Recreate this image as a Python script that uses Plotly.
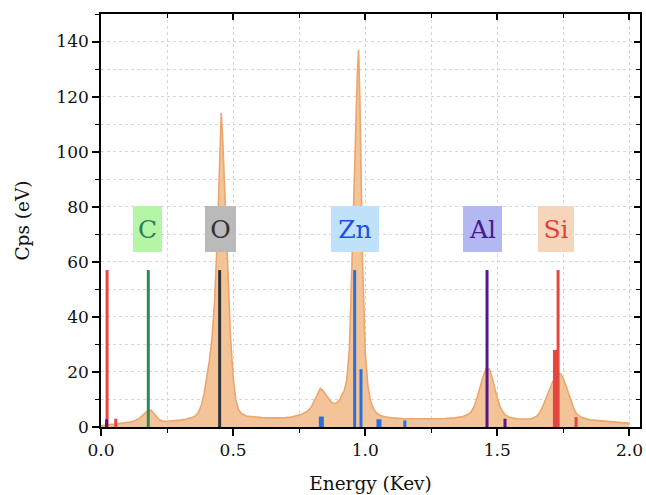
import plotly.graph_objects as go

# EDS spectrum: energy (keV) and counts
energy_kev = [0.00, 0.01, 0.02, 0.03, 0.04, 0.05, 0.06, 0.07, 0.08, 0.09,
              0.10, 0.11, 0.12, 0.13, 0.14, 0.15, 0.16, 0.17, 0.18, 0.19,
              0.20, 0.21, 0.22, 0.23, 0.24, 0.26, 0.28, 0.30, 0.32, 0.34,
              0.35, 0.36, 0.37, 0.38, 0.39, 0.40, 0.41, 0.42, 0.43, 0.44,
              0.45, 0.455, 0.46, 0.47, 0.48, 0.49, 0.50, 0.51, 0.52, 0.53,
              0.55, 0.58, 0.61, 0.64, 0.67, 0.70, 0.72, 0.74, 0.76, 0.78,
              0.79, 0.80, 0.81, 0.82, 0.83, 0.84, 0.85, 0.86, 0.87, 0.88,
              0.89, 0.90, 0.91, 0.92, 0.93, 0.94, 0.95, 0.96, 0.97, 0.975,
              0.98, 0.99, 1.00, 1.01, 1.02, 1.03, 1.04, 1.05, 1.06, 1.08,
              1.10, 1.14, 1.18, 1.22, 1.26, 1.30, 1.34, 1.37, 1.39, 1.40,
              1.41, 1.42, 1.43, 1.44, 1.45, 1.46, 1.47, 1.48, 1.49, 1.50,
              1.51, 1.52, 1.53, 1.55, 1.58, 1.61, 1.63, 1.65, 1.66, 1.67,
              1.68, 1.69, 1.70, 1.71, 1.72, 1.73, 1.74, 1.75, 1.76, 1.77,
              1.78, 1.79, 1.80, 1.82, 1.85, 1.90, 1.95, 2.00]
counts = [0.4, 0.6, 0.8, 0.9, 1.0, 1.0, 1.1, 1.2, 1.4, 1.5,
          1.6, 1.8, 2.0, 2.3, 2.8, 3.5, 4.4, 5.4, 6.2, 6.0,
          4.9, 3.6, 2.7, 2.3, 2.1, 2.2, 2.3, 2.5, 2.8, 3.2,
          3.6, 4.3, 5.6, 8.0, 12.0, 18.0, 24.0, 32.0, 46.0, 68.0,
          98.0, 114.0, 106.0, 80.0, 58.0, 33.0, 18.0, 10.0, 6.5, 5.0,
          4.0, 3.6, 3.4, 3.3, 3.3, 3.4, 3.6, 4.0, 4.6, 5.6,
          6.5, 8.0, 10.0, 12.5, 14.0, 13.2, 11.8, 10.2, 9.2, 8.6,
          8.6, 9.4, 11.0, 13.0, 17.0, 28.0, 60.0, 95.0, 128.0, 137.0,
          118.0, 60.0, 27.0, 15.0, 9.5, 6.8, 5.4, 4.6, 4.1, 3.6,
          3.3, 3.1, 3.0, 3.0, 3.0, 3.1, 3.3, 3.8, 4.6, 5.4,
          7.0, 9.5, 13.0, 16.5, 19.5, 21.5, 21.0, 18.0, 14.0, 10.5,
          7.5, 5.6, 4.4, 3.4, 2.9, 2.8, 3.0, 4.0, 5.2, 7.0,
          9.5, 12.0, 14.5, 16.5, 18.0, 19.5, 19.3, 17.5, 15.0, 12.0,
          9.0, 6.5, 4.8, 3.4, 2.6, 2.1, 1.7, 1.3]

# Reference line markers per element (energy keV, marker height)
si_lines_kev = [0.023, 0.056, 1.719, 1.730, 1.798]
si_lines_h = [57, 3, 28, 57, 3.6]
al_lines_kev = [0.021, 1.461, 1.529]
al_lines_h = [2.8, 57, 3]
c_lines_kev = [0.179]
c_lines_h = [57]
o_lines_kev = [0.449]
o_lines_h = [57]
zn_lines_kev = [0.834, 0.960, 0.984, 1.052, 1.150]
zn_lines_h = [3.8, 57, 21, 2.8, 2.4]

# Element tags: text, energy position, height position
tag_text = ["C", "O", "Zn", "Al", "Si"]
tag_kev = [0.175, 0.454, 0.962, 1.442, 1.722]
tag_y = [71.8, 71.8, 71.8, 71.8, 71.8]

x_ticks = [0.0, 0.5, 1.0, 1.5, 2.0]
y_ticks = [0, 20, 40, 60, 80, 100, 120, 140]

FONT = "DejaVu Serif"
GRID = "#d6d6d6"
GRID_DASH = "3px,3px"

fig = go.Figure()

fig.add_trace(go.Scatter(
    x=energy_kev, y=counts, mode="lines", fill="tozeroy",
    line=dict(color="#eda56e", width=1.6),
    fillcolor="rgba(243,190,142,0.9)",
    showlegend=False, hoverinfo="skip"))


def add_lines(xs, hs, color, px):
    """Draw vertical marker lines from 0 up to each height, px wide."""
    for x, h, w in zip(xs, hs, px):
        fig.add_trace(go.Scatter(x=[x, x], y=[0, h], mode="lines",
                                 line=dict(color=color, width=w),
                                 showlegend=False, hoverinfo="skip"))


add_lines(si_lines_kev, si_lines_h, "#e5463d", [3, 3, 4.5, 3, 3])
add_lines(al_lines_kev, al_lines_h, "#55188c", [3, 3, 3])
add_lines(c_lines_kev, c_lines_h, "#2e8a5a", [3])
add_lines(o_lines_kev, o_lines_h, "#333333", [3])
add_lines(zn_lines_kev, zn_lines_h, "#2a6fe0", [5, 3, 3, 5, 3])

# invisible trace to anchor the mirrored top/right axes
fig.add_trace(go.Scatter(x=[None], y=[None], xaxis="x2", yaxis="y2",
                         showlegend=False, hoverinfo="skip"))

tag_style = {
    "C": ("#2f7d55", "#b5f5a6", 21),
    "O": ("#333333", "#bababa", 23),
    "Zn": ("#1f4fe0", "#bfe1fa", 40),
    "Al": ("#4a1890", "#b2b9f2", 31),
    "Si": ("#e2413a", "#f6d6bb", 28),
}
for t, xk, yv in zip(tag_text, tag_kev, tag_y):
    fc, bg, w = tag_style[t]
    fig.add_annotation(x=xk, y=yv, xref="x", yref="y", text=t, showarrow=False,
                       font=dict(family=FONT, size=25, color=fc),
                       bgcolor=bg, borderpad=4, borderwidth=0, width=w, height=38)

axis_common = dict(showline=True, linecolor="black", linewidth=1.6, zeroline=False,
                   tickfont=dict(family=FONT, size=17, color="#111111"))

fig.update_layout(
    width=646, height=495,
    margin=dict(l=101, r=3, t=14, b=68),
    plot_bgcolor="white", paper_bgcolor="white",
    xaxis=dict(range=[0, 2.04], tickvals=x_ticks, ticktext=[f"{v:.1f}" for v in x_ticks],
               ticks="outside", ticklen=7, tickwidth=1.6, tickcolor="black",
               showgrid=True, gridcolor=GRID, griddash=GRID_DASH, gridwidth=1,
               minor=dict(dtick=0.25, tick0=0, ticks="outside", ticklen=4, tickwidth=1.4,
                          tickcolor="black", showgrid=True, gridcolor=GRID, griddash=GRID_DASH),
               title=dict(text="Energy (Kev)", font=dict(family=FONT, size=18.5, color="#111111"),
                          standoff=18),
               **axis_common),
    yaxis=dict(range=[0, 150], tickvals=y_ticks,
               ticks="outside", ticklen=7, tickwidth=1.6, tickcolor="black",
               showgrid=True, gridcolor=GRID, griddash=GRID_DASH, gridwidth=1,
               minor=dict(dtick=10, tick0=0, ticks="outside", ticklen=4, tickwidth=1.4,
                          tickcolor="black", showgrid=True, gridcolor=GRID, griddash=GRID_DASH),
               title=dict(text="Cps (eV)", font=dict(family=FONT, size=18.5, color="#111111"),
                          standoff=22),
               **axis_common),
    xaxis2=dict(overlaying="x", side="top", anchor="y", range=[0, 2.04], tickvals=x_ticks,
                showticklabels=False, ticks="inside", ticklen=6, tickwidth=1.6, tickcolor="black",
                showgrid=False, showline=True, linecolor="black", linewidth=1.6, zeroline=False,
                minor=dict(dtick=0.25, tick0=0, ticks="inside", ticklen=4, tickwidth=1.4,
                           tickcolor="black", showgrid=False)),
    yaxis2=dict(overlaying="y", side="right", anchor="x", range=[0, 150], tickvals=y_ticks,
                showticklabels=False, ticks="inside", ticklen=6, tickwidth=1.6, tickcolor="black",
                showgrid=False, showline=True, linecolor="black", linewidth=1.6, zeroline=False,
                minor=dict(dtick=10, tick0=0, ticks="inside", ticklen=4, tickwidth=1.4,
                           tickcolor="black", showgrid=False)),
)

fig.write_html("out.html")
